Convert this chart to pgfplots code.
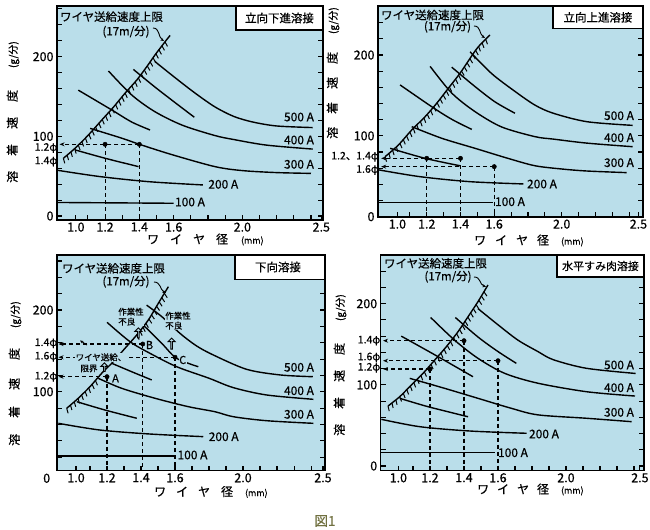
\documentclass[border=0pt]{standalone}
\usepackage{fontspec}
\setmainfont{Noto Sans CJK JP}[FakeBold=0.5]
\usepackage{pgfplots}
\pgfplotsset{compat=1.18}
\usetikzlibrary{decorations.pathreplacing,arrows.meta,shapes.arrows}
\definecolor{bg}{RGB}{186,222,234}
\definecolor{figc}{RGB}{112,112,64}
\newcommand\fs[1]{\fontsize{#1}{#1}\selectfont}
\pgfplotsset{
 panel/.style={
  scale only axis, clip=false,
  axis background/.style={fill=bg},
  axis line style={line width=1.4bp},
  tick style={black, line width=1.1bp},
  major tick length=5bp, minor tick length=5bp,
  tick align=inside, xtick pos=bottom, ytick pos=both,
  ytick={0,100,200},
  minor ytick={20,40,60,80,120,140,160,180,220,240,260},
  minor xtick={1.1,1.3,1.5,1.7,1.8,1.9,2.1,2.2,2.3,2.4},
  xticklabels={1.0,1.2,1.4,1.6,2.0,2.5},
  tick label style={font=\fs{12.5}},
  /pgf/number format/assume math mode=true,
  xticklabel style={yshift=1bp},
 },
 crv/.style={line width=1.4bp, black, smooth, no markers},
 hatch/.style={line width=1bp, black, sharp plot, no markers, decorate,
   decoration={border, segment length=5bp, amplitude=5.2bp, angle=-115}},
 dsh/.style={line width=1.1bp, black, dash pattern=on 4bp off 3bp, no markers},
 dsharr/.style={dsh, -{Stealth[length=5bp,width=4bp]}},
 dot/.style={only marks, mark=*, mark size=2.2bp, black},
}
\begin{document}
\begin{tikzpicture}
\useasboundingbox (0,0) rectangle (650bp,530bp);
% ---------------- top left: 立向下進溶接
\begin{axis}[panel, at={(57bp,310bp)}, anchor=south west, width=266bp, height=214bp,
  xmin=0.92, xmax=2.47, ymin=-5, ymax=263.6, xtick={1.03,1.2,1.4,1.6,2.0,2.46}]
\addplot[crv] coordinates {(0.957,72.4)(1.025,85)(1.103,101.7)(1.181,120.5)(1.248,136.4)(1.316,154)(1.385,170.7)(1.443,187.4)(1.491,202.1)(1.55,218.8)(1.579,226.7)};
\addplot[hatch] coordinates {(0.957,72.4)(1.025,85)(1.103,101.7)(1.181,120.5)(1.248,136.4)(1.316,154)(1.385,170.7)(1.443,187.4)(1.491,202.1)(1.55,218.8)(1.579,226.7)};
\addplot[crv] coordinates {(1.49,194)(1.6,175)(1.72,155)(1.84,137)(1.95,125)(2.06,118)(2.2,113)(2.41,111)};
\addplot[crv] coordinates {(1.365,184)(1.49,162)(1.61,142)(1.72,124)};
\addplot[crv] coordinates {(1.22,182)(1.355,152)(1.49,131)(1.65,114)(1.84,101)(1.95,96)(2.14,89)(2.41,84)};
\addplot[crv] coordinates {(1.044,158)(1.24,133)(1.355,118)(1.462,108)};
\addplot[crv] coordinates {(1.113,110)(1.3,97.5)(1.4,90)(1.59,77)(1.84,62)(2.0,57)(2.2,54.5)(2.4,53.5)};
\addplot[crv] coordinates {(1.025,83)(1.2,72.5)(1.395,62)};
\addplot[crv] coordinates {(0.92,57.5)(1.17,49.5)(1.46,43)(1.77,39)};
\addplot[crv] coordinates {(0.92,17)(1.6,16)};
\addplot[dsharr] coordinates {(1.4,90)(0.935,90)};
\addplot[dsh] coordinates {(1.2,90)(1.2,-5)};
\addplot[dsh] coordinates {(1.4,90)(1.4,-5)};
\addplot[dot] coordinates {(1.2,90)(1.4,90)};
\end{axis}
% ---------------- top right: 立向上進溶接
\begin{axis}[panel, at={(378bp,313bp)}, anchor=south west, width=265bp, height=211bp,
  xmin=0.911, xmax=2.482, ymin=-0.4, ymax=260.7, xtick={1.026,1.2,1.4,1.6,2.0,2.455}]
\addplot[crv] coordinates {(0.953,74.2)(1.032,88.7)(1.111,107.3)(1.19,123.7)(1.259,140.3)(1.328,158.9)(1.397,177.4)(1.457,196)(1.506,210.3)(1.575,224.8)};
\addplot[hatch] coordinates {(0.953,74.2)(1.032,88.7)(1.111,107.3)(1.19,123.7)(1.259,140.3)(1.328,158.9)(1.397,177.4)(1.457,196)(1.506,210.3)(1.575,224.8)};
\addplot[crv] coordinates {(1.457,204)(1.585,177)(1.723,155)(1.842,138)(1.95,128)(2.15,117.5)(2.42,113)};
\addplot[crv] coordinates {(1.348,185)(1.486,161)(1.605,142)(1.723,128)};
\addplot[crv] coordinates {(1.22,186)(1.348,153)(1.486,130)(1.644,111)(1.842,99)(1.95,96)(2.15,91)(2.42,86.6)};
\addplot[crv] coordinates {(1.042,163)(1.23,136)(1.348,120.5)(1.467,108)};
\addplot[crv] coordinates {(1.111,111.4)(1.289,97)(1.486,84.6)(1.684,72)(1.842,63)(2.0,59)(2.15,56.5)(2.385,54.5)};
\addplot[crv] coordinates {(0.983,84.6)(1.19,72.2)(1.397,63)};
\addplot[crv] coordinates {(0.913,58)(1.16,49.5)(1.457,43.3)(1.773,40.5)};
\addplot[crv] coordinates {(0.913,17.3)(1.595,17.3)};
\addplot[dsharr] coordinates {(1.4,72.2)(0.93,72.2)};
\addplot[dsharr] coordinates {(1.6,61.9)(0.93,61.9)};
\addplot[dsh] coordinates {(1.2,72.2)(1.2,-0.4)};
\addplot[dsh] coordinates {(1.4,72.2)(1.4,-0.4)};
\addplot[dsh] coordinates {(1.6,61.9)(1.6,-0.4)};
\addplot[dot] coordinates {(1.2,72.2)(1.4,72.2)(1.6,61.9)};
\end{axis}
% ---------------- bottom left: 下向溶接
\begin{axis}[panel, at={(57bp,59.3bp)}, anchor=south west, width=268bp, height=215.7bp,
  xmin=0.906, xmax=2.482, ymin=3.3, ymax=267.4, ytick={100,200}, xtick={1.018,1.2,1.4,1.6,2.0,2.47}]
\addplot[crv] coordinates {(0.963,79.7)(1.031,92)(1.1,106.2)(1.169,122.6)(1.237,136.8)(1.306,153.2)(1.375,169.5)(1.443,187.8)(1.502,208.3)(1.561,228.6)};
\addplot[hatch] coordinates {(0.963,79.7)(1.031,92)(1.1,106.2)(1.169,122.6)};
\addplot[hatch] coordinates {(1.375,169.5)(1.443,187.8)(1.502,208.3)(1.561,228.6)};
\addplot[crv] coordinates {(1.433,206)(1.522,192)(1.629,171.5)(1.72,157)(1.815,146)(2.02,127.5)(2.22,120.5)(2.41,118.4)};
\addplot[crv] coordinates {(1.40,184)(1.433,177.6)(1.522,159.3)(1.6,142.2)(1.678,134.8)(1.737,130.6)};
\addplot[crv] coordinates {(1.2,185)(1.335,161.3)(1.453,147)(1.61,130.6)(1.8,116.5)(1.943,105)(2.139,96)(2.414,90.7)};
\addplot[crv] coordinates {(1.228,134.8)(1.345,124.5)(1.463,114.4)};
\addplot[crv] coordinates {(1.149,116.4)(1.286,104.2)(1.482,92)(1.678,81.7)(1.835,75.5)(1.943,69.4)(2.139,64.5)(2.414,61.3)};
\addplot[crv] coordinates {(1.022,87.8)(1.188,77.6)(1.375,67.5)};
\addplot[crv] coordinates {(0.914,61.3)(1.159,53.1)(1.453,48.2)(1.766,45)};
\addplot[crv] coordinates {(0.914,21.3)(1.6,21.3)};
\addplot[dsharr] coordinates {(1.41,158.4)(0.915,158.4)};
\addplot[dsharr] coordinates {(1.6,142.2)(0.915,142.2)};
\addplot[dsharr] coordinates {(1.2,118.4)(0.915,118.4)};
\addplot[dsh] coordinates {(1.2,118.4)(1.2,3.3)};
\addplot[dsh] coordinates {(1.41,158.4)(1.41,3.3)};
\addplot[dsh] coordinates {(1.6,142.2)(1.6,3.3)};
\addplot[dot] coordinates {(1.2,118.4)(1.41,158.4)(1.6,142.2)};
\end{axis}
% ---------------- bottom right: 水平すみ肉溶接
\begin{axis}[panel, at={(380.7bp,59.3bp)}, anchor=south west, width=263.3bp, height=215.7bp,
  xmin=0.91, xmax=2.459, ymin=-5.8, ymax=260, xtick={1.014,1.2,1.4,1.6,2.0,2.435}]
\addplot[crv] coordinates {(0.953,73.9)(1.022,85.4)(1.09,99.8)(1.159,114.2)(1.228,130.6)(1.296,147)(1.365,165.5)(1.424,184)(1.482,202.4)(1.541,223)};
\addplot[hatch] coordinates {(0.953,73.9)(1.022,85.4)(1.09,99.8)(1.159,114.2)(1.228,130.6)(1.296,147)(1.365,165.5)(1.424,184)(1.482,202.4)(1.541,223)};
\addplot[crv] coordinates {(1.482,194)(1.6,174)(1.718,155)(1.835,141)(1.925,131)(2.12,120.4)(2.41,114)};
\addplot[crv] coordinates {(1.349,183)(1.482,159)(1.6,141)(1.708,126.5)};
\addplot[crv] coordinates {(1.204,183)(1.345,155)(1.482,132.7)(1.639,114.2)(1.835,102)(2.122,91.5)(2.406,86.2)};
\addplot[crv] coordinates {(1.031,160)(1.228,137)(1.453,110)};
\addplot[crv] coordinates {(1.081,108)(1.286,95.7)(1.482,83.4)(1.678,71.1)(1.835,63)(2.122,58.8)(2.386,54.6)};
\addplot[crv] coordinates {(1.022,83.4)(1.188,73.1)(1.424,60.7)};
\addplot[crv] coordinates {(0.914,57.5)(1.141,48.4)(1.435,43.1)(1.769,40.3)};
\addplot[crv] coordinates {(0.914,16.4)(1.58,16.4)};
\addplot[dsharr] coordinates {(1.4,154.4)(0.924,154.4)};
\addplot[dsharr] coordinates {(1.6,129.7)(0.924,129.7)};
\addplot[dsharr] coordinates {(1.2,119.5)(0.924,119.5)};
\addplot[dsh] coordinates {(1.2,119.5)(1.2,-5.8)};
\addplot[dsh] coordinates {(1.4,154.4)(1.4,-5.8)};
\addplot[dsh] coordinates {(1.6,129.7)(1.6,-5.8)};
\addplot[dot] coordinates {(1.2,119.5)(1.4,154.4)(1.6,129.7)};
\end{axis}
% ---------------- texts (pixel coordinates, y downwards)
\begin{scope}[x=1bp,y=-1bp,yshift=530bp]
\tikzset{ar/.style={-{Stealth[length=3.5bp,width=3bp]}, line width=0.9bp}}
% y labels
\node[rotate=90,anchor=west,inner sep=0] at (13,183) {\fs{12}溶\hspace{15bp}着\hspace{15bp}速\hspace{15bp}度\hspace{22bp}{\fs{10}(g/分)}};
\node[rotate=90,anchor=west,inner sep=0] at (333,139) {\fs{12}溶\hspace{13bp}着\hspace{13bp}速\hspace{13bp}度\hspace{18bp}{\fs{10}(g/分)}};
\node[rotate=90,anchor=west,inner sep=0] at (15,446) {\fs{12}溶\hspace{16bp}着\hspace{16bp}速\hspace{18bp}度\hspace{20bp}{\fs{10}(g/分)}};
\node[rotate=90,anchor=west,inner sep=0] at (340,436) {\fs{12}溶\hspace{15bp}着\hspace{15bp}速\hspace{15bp}度\hspace{22bp}{\fs{10}(g/分)}};
% x labels
\node[anchor=west,inner sep=0] at (147,239.5) {\fs{12}ワ\hspace{11bp}イ\hspace{11bp}ヤ\hspace{11bp}径\hspace{13bp}{\fs{9}(mm)}};
\node[anchor=west,inner sep=0] at (474,240.5) {\fs{12}ワ\hspace{9bp}イ\hspace{9bp}ヤ\hspace{9bp}径\hspace{12bp}{\fs{9}(mm)}};
\node[anchor=west,inner sep=0] at (154,492) {\fs{12}ワ\hspace{10bp}イ\hspace{10bp}ヤ\hspace{11bp}径\hspace{12bp}{\fs{9}(mm)}};
\node[anchor=west,inner sep=0] at (477,489.5) {\fs{12}ワ\hspace{8bp}イ\hspace{8bp}ヤ\hspace{8bp}径\hspace{12bp}{\fs{9}(mm)}};
% title boxes
\draw[fill=white,line width=1.3bp] (236,6) rectangle (323,30);
\node at (279.5,18) {\fs{11.5}立向下進溶接};
\draw[fill=white,line width=1.3bp] (553,6) rectangle (643,28.5);
\node at (598,17.3) {\fs{11.5}立向上進溶接};
\draw[fill=white,line width=1.3bp] (235,255) rectangle (325,279.5);
\node at (278,267) {\fs{11.5}下向溶接};
\draw[fill=white,line width=1.3bp] (557,255) rectangle (644,277);
\node at (600.5,266) {\fs{11}水平すみ肉溶接};
% upper limit texts
\foreach \x/\y/\u/\v in {111.5/16.7/126/31.7, 432.5/15/447.5/26.7, 113.5/268.3/126/281.7, 435.5/263.3/448/276.7}{
  \node at (\x,\y) {\fs{11.5}ワイヤ送給速度上限};
  \node at (\u,\v) {\fs{11.5}(17m/分)};
}
\draw[ar] (153,28) .. controls (160,28) and (158,37) .. (164,41);
\draw[ar] (474,26) .. controls (481,26) and (479,34) .. (485,38);
\draw[ar] (154,282) .. controls (161,282) and (160,290) .. (166,293);
\draw[ar] (474,277) .. controls (481,277) and (479,284) .. (486,287);
% current labels
\foreach \ox/\oy/\bx/\by/\cx/\cy/\dx/\dy/\ex/\ey in {299/117/299/140/299/164.3/223.3/184.3/190/202,
   619/115.7/619/137.7/619/162.7/542/184/510/201.7,
   299/367.3/299/390.7/299/414.3/223.7/436.7/192.5/455,
   619/365/619/387.7/619/412.3/544/434/513/452.7}{
  \node at (\ox,\oy) {\fs{12}500 A};
  \node at (\bx,\by) {\fs{12}400 A};
  \node at (\cx,\cy) {\fs{12}300 A};
  \node at (\dx,\dy) {\fs{12}200 A};
  \node at (\ex,\ey) {\fs{12}100 A};
}
% diameter labels
\tikzset{dl/.style={anchor=east,inner sep=0,font=\fs{10.5}}}
\node[dl] at (57.5,148) {1.2φ};
\node[dl] at (57.5,161.5) {1.4φ};
\node[dl] at (379,156.7) {1.2、1.4φ};
\node[dl] at (379,170) {1.6φ};
\node[dl] at (57.5,343.3) {1.4φ};
\node[dl] at (57.5,356.7) {1.6φ};
\node[dl] at (57.5,376.7) {1.2φ};
\node[dl] at (380.5,340.7) {1.4φ};
\node[dl] at (380.5,357.5) {1.6φ};
\node[dl] at (380.5,367.8) {1.2φ};
% bottom-left "0"
\node at (46.7,478.3) {\fs{12.5}0};
% bottom-left annotations
\node[anchor=north west,align=left,fill=bg,inner sep=0.6bp,font=\fontsize{8.5}{10}\selectfont] at (117.5,307) {作業性\\不良};
\node[anchor=north west,align=left,fill=bg,inner sep=0.6bp,font=\fontsize{8.5}{10}\selectfont] at (164.5,311) {作業性\\不良};
\node[fill=bg,inner sep=0.6bp,font=\fs{8.5}] at (101,357.3) {ワイヤ送給、};
\node[fill=bg,inner sep=0.6bp,font=\fs{8.5}] at (89,368.5) {限界};
\tikzset{ha/.style={single arrow, draw, fill=bg, line width=0.9bp, shape border rotate=90,
   minimum width=7bp, single arrow head extend=1.5bp, inner sep=0pt}}
\node[ha,minimum height=10bp] at (138.3,333.3) {};
\node[ha,minimum height=11bp] at (171.7,344) {};
\node[ha,minimum height=8.5bp] at (104.3,367.5) {};
\node[font=\fs{11}] at (115.5,378.3) {A};
\node[font=\fs{11}] at (149.5,345) {B};
\node[fill=bg,inner sep=0.5bp,font=\fs{11}] at (182.7,360) {C};
\draw[ar] (87,345) -- (80,340.5);
% figure title
\node[text=figc] at (325,521) {\fs{13.5}図1};
\end{scope}
\end{tikzpicture}
\end{document}
